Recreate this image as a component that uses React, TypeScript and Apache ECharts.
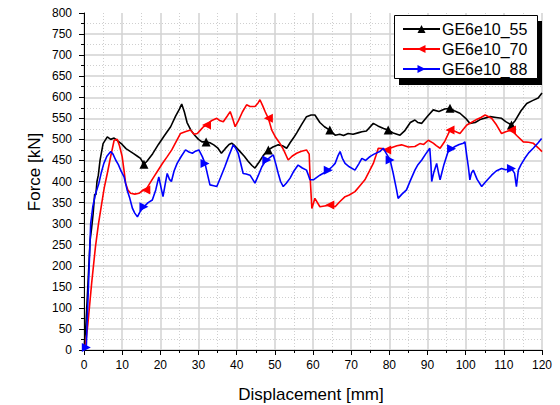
import React, { useEffect, useRef } from "react";
import * as echarts from "echarts";

const seriesNames = ["GE6e10_55", "GE6e10_70", "GE6e10_88"];

const curve55: number[][] = [
  [0, 0], [0.5, 60], [1, 150], [1.6, 260], [2, 290], [2.4, 324], [2.8, 370], [3.1, 368], [3.4, 400], [3.75, 415], [4.2, 450], [5, 490], [6.1, 506], [7, 500], [7.9, 503],
  [9, 495], [10, 488], [11, 478], [12, 472], [13, 466], [14, 460], [14.8, 455], [15.7, 441], [16.5, 448], [18, 466], [19.5, 488],
  [21, 508], [22.7, 530], [24, 555], [25, 572], [25.6, 584], [26.3, 565], [27, 540], [28, 522], [29, 510], [30, 500], [30.9, 494],
  [32, 494], [33, 492], [34, 487], [35, 480], [36, 467], [37, 478], [38, 488], [38.7, 491], [39.5, 485], [40.9, 471], [42, 460],
  [43, 448], [44, 438], [44.8, 432], [45.8, 445], [47, 462], [48.3, 475], [49.5, 482], [50.9, 487], [52, 485], [53.1, 479],
  [54, 492], [55, 505], [55.7, 515], [57, 535], [58.3, 554], [59.5, 558], [60.5, 558], [61.8, 540], [63, 530], [64.4, 522],
  [65.8, 510], [67, 512], [68, 509], [69.2, 514], [70.5, 512], [72, 516], [72.8, 518], [74, 520], [75.8, 538], [77, 532],
  [78.5, 526], [79.7, 522], [81, 515], [82.8, 510], [84, 520], [85.5, 540], [86.7, 546], [87.5, 540], [88.5, 538], [90, 555],
  [91.5, 570], [93, 566], [94.5, 572], [95.9, 574], [97, 568], [98.5, 562], [100, 550], [101.1, 538], [102.5, 540], [104, 548],
  [106.4, 554], [108, 552], [109.4, 550], [110.5, 542], [112, 534], [113, 545], [114.5, 568], [116, 585], [117.5, 592],
  [119, 598], [120, 610]
];

const curve70: number[][] = [
  [0, 0], [0.3, 5], [1, 60], [2, 158], [3, 245], [3.8, 300], [4.5, 340], [5.3, 385], [6.1, 419], [7, 460], [7.9, 498], [8.7, 500],
  [9.3, 485], [10, 459], [10.5, 425], [10.9, 396], [11.5, 380], [12.2, 372], [13.3, 370], [14.4, 372], [15.3, 378], [16.2, 380],
  [17.2, 395], [18.3, 411], [19.5, 428], [20.5, 442], [21.8, 459], [23, 475], [24, 492], [25.3, 514], [26.5, 518], [27.9, 522],
  [28.8, 512], [29.7, 514], [30.5, 522], [31.3, 530], [32.1, 534], [33.5, 545], [34.8, 550], [35.5, 545], [36.5, 542],
  [37.5, 555], [38.3, 566], [39, 548], [39.6, 530], [40.5, 545], [41.5, 565], [42.6, 582], [43.5, 578], [44.8, 578],
  [45.5, 585], [46.1, 594], [46.8, 580], [47.5, 565], [48.3, 550], [49.2, 522], [50.2, 505], [51.3, 491], [52.3, 475],
  [53.5, 451], [54.5, 460], [55.7, 467], [57, 472], [58.3, 475], [59, 465], [59.2, 419], [59.7, 336], [60.5, 360],
  [61.8, 340], [63, 342], [64.4, 344], [65.8, 340], [67, 352], [68.4, 364], [69.5, 368], [71, 376], [72.3, 390],
  [73.6, 404], [74.8, 425], [75.8, 443], [76.5, 462], [77.1, 479], [78.2, 478], [79.3, 475], [80.5, 480], [82, 485],
  [83.2, 487], [85, 482], [86.7, 483], [88, 490], [89, 488], [90.2, 498], [91.5, 491], [92.3, 485], [93.3, 479],
  [94.5, 495], [95.9, 522], [97, 520], [98.5, 514], [99.5, 525], [100.3, 534], [101.5, 540], [103, 548], [104, 552],
  [105.1, 558], [106.8, 550], [108.1, 534], [109.4, 514], [110.5, 518], [112, 522], [113.5, 508], [115.1, 494],
  [116.5, 493], [117.7, 491], [119, 480], [120, 471]
];

const curve88: number[][] = [
  [0, 0], [0.6, 6], [0.8, 60], [1.2, 160], [1.75, 300], [2.3, 340], [3, 370], [3.9, 396], [4.5, 420], [5.2, 443], [6, 460],
  [7, 471], [7.6, 465], [8.3, 451], [9, 440], [9.7, 425], [10.5, 411], [11.3, 380], [12, 360], [12.7, 336], [13.3, 325],
  [14, 316], [14.8, 330], [15.7, 340], [16.8, 350], [17.9, 356], [18.8, 380], [19.6, 411], [20.2, 385], [20.7, 364],
  [21.3, 395], [21.8, 419], [22.4, 405], [22.9, 400], [23.6, 425], [24.4, 443], [25.5, 460], [26.6, 475], [27.5, 470],
  [28.4, 467], [29.2, 472], [30.1, 475], [31, 459], [31.7, 443], [32.4, 415], [33, 392], [34, 390], [34.8, 388],
  [35.8, 410], [36.9, 435], [38, 462], [39.1, 487], [39.8, 478], [40.4, 467], [41, 445], [41.7, 419], [42.5, 418],
  [43.5, 415], [44.2, 405], [44.8, 396], [45.7, 415], [46.6, 435], [47.3, 445], [47.9, 451], [48.8, 458], [49.6, 463],
  [50.3, 440], [50.9, 419], [51.5, 400], [52.2, 388], [53, 396], [54, 408], [55, 425], [56.1, 439], [57.2, 432],
  [58.3, 427], [58.8, 415], [59.2, 404], [60.1, 404], [61, 410], [61.8, 415], [62.8, 420], [64, 427], [65, 435],
  [65.8, 443], [66.5, 460], [67.1, 471], [67.7, 455], [68.4, 443], [69.5, 435], [71, 427], [72, 442], [72.8, 455],
  [73.8, 450], [74.9, 459], [76, 465], [77.5, 471], [78.4, 479], [79.3, 465], [80.2, 451], [81, 420], [81.9, 380],
  [82.3, 360], [83.3, 370], [84.5, 380], [85.5, 402], [86.7, 427], [87.5, 440], [88.5, 451], [89.5, 465], [90.6, 479],
  [90.9, 440], [91.1, 400], [91.6, 420], [92.4, 443], [92.9, 420], [93.3, 404], [94.3, 440], [95.4, 471], [96.3, 478],
  [97.2, 483], [98.3, 488], [99.4, 491], [99.8, 494], [100.3, 460], [100.7, 435], [101.1, 404], [101.5, 420], [102, 427],
  [103, 405], [104.2, 388], [105.3, 400], [106.8, 415], [108, 425], [109.4, 431], [110.5, 428], [112, 431], [112.8, 420],
  [113.3, 388], [113.8, 427], [114.5, 440], [115.5, 455], [116.5, 468], [117.7, 479], [119, 492], [119.9, 502]
];

const markers55 = [15.7, 32, 48.3, 64.4, 79.7, 95.9, 112];
const markers70 = [16.2, 32.1, 48.3, 64.4, 79.3, 95.9, 112];
const markers88 = [0.6, 15.7, 31.7, 47.9, 64, 80.2, 96.3, 112];

const xTicks = { min: 0, max: 120, interval: 10 };
const yTicks = { min: 0, max: 800, interval: 50 };

const FONT = 'Arial, "Liberation Sans", sans-serif';

function buildData(curve: number[][], markers: number[]) {
  const idx = new Set<number>();
  markers.forEach((mx) => {
    let best = 0;
    let bd = Infinity;
    curve.forEach((p, i) => {
      const d = Math.abs(p[0] - mx);
      if (d < bd) { bd = d; best = i; }
    });
    idx.add(best);
  });
  return curve.map((p, i) => (idx.has(i) ? { value: p } : { value: p, symbol: "none" }));
}

export default function App() {
  const ref = useRef<HTMLDivElement>(null);
  useEffect(() => {
    if (!ref.current) return;
    const chart = echarts.init(ref.current, undefined, { renderer: "svg" });
    const colors = ["#000000", "#ff0000", "#0000ff"];
    const curves = [curve55, curve70, curve88];
    const marks = [markers55, markers70, markers88];
    const rot = [0, 90, -90];
    chart.setOption({
      animation: false,
      backgroundColor: "#ffffff",
      grid: { left: 84, right: 18, top: 13, bottom: 55 },
      xAxis: {
        type: "value",
        min: xTicks.min,
        max: xTicks.max,
        interval: xTicks.interval,
        axisLine: { show: true, onZero: false, lineStyle: { color: "#000", width: 1 } },
        axisTick: { show: true, inside: false, length: 5, lineStyle: { color: "#000" } },
        minorTick: { show: true, splitNumber: 2, length: 3, lineStyle: { color: "#000" } },
        axisLabel: { color: "#000", fontSize: 12, fontFamily: FONT, margin: 9 },
        splitLine: { show: true, lineStyle: { color: "#d2d2d2", width: 1.5 } },
        minorSplitLine: { show: true, lineStyle: { color: "#cfcfcf", width: 1, type: [1, 2] } },
      },
      yAxis: {
        type: "value",
        min: yTicks.min,
        max: yTicks.max,
        interval: yTicks.interval,
        axisLine: { show: true, onZero: false, lineStyle: { color: "#000", width: 1 } },
        axisTick: { show: true, inside: false, length: 5, lineStyle: { color: "#000" } },
        minorTick: { show: true, splitNumber: 2, length: 3, lineStyle: { color: "#000" } },
        axisLabel: { color: "#000", fontSize: 12, fontFamily: FONT, margin: 12 },
        splitLine: { show: true, showMaxLine: false, lineStyle: { color: "#d2d2d2", width: 1.5 } },
        minorSplitLine: { show: true, lineStyle: { color: "#cfcfcf", width: 1, type: [1, 2] } },
      },
      legend: {
        orient: "vertical",
        left: 402,
        top: 21,
        padding: 0,
        itemGap: 4,
        itemWidth: 37,
        itemHeight: 10,
        z: 20,
        data: seriesNames,
        textStyle: { color: "#000", fontSize: 16, fontFamily: FONT, padding: [0, 0, 0, -3] },
      },
      graphic: [
        { type: "rect", z: 10, silent: true, shape: { x: 399, y: 21, width: 143, height: 64 }, style: { fill: "#000" } },
        { type: "rect", z: 11, silent: true, shape: { x: 394.5, y: 15.5, width: 143, height: 63 }, style: { fill: "#fff", stroke: "#000", lineWidth: 1 } },
        { type: "text", z: 12, x: 34, y: 172, rotation: Math.PI / 2, style: { text: "Force [kN]", fontSize: 17, fontFamily: FONT, fill: "#000", align: "center", verticalAlign: "middle" } },
        { type: "text", z: 12, x: 311, y: 394, style: { text: "Displacement [mm]", fontSize: 17, fontFamily: FONT, fill: "#000", align: "center", verticalAlign: "middle" } },
      ],
      series: seriesNames.map((name, k) => ({
        name,
        type: "line",
        data: buildData(curves[k], marks[k]),
        symbol: "triangle",
        symbolSize: 9,
        symbolRotate: rot[k],
        showAllSymbol: true,
        color: colors[k],
        itemStyle: { color: colors[k] },
        lineStyle: { color: colors[k], width: 1.6 },
        z: 2 + k,
      })),
    });
    return () => chart.dispose();
  }, []);
  return <div ref={ref} style={{ position: "absolute", left: 0, top: 0, width: 560, height: 405 }} />;
}
